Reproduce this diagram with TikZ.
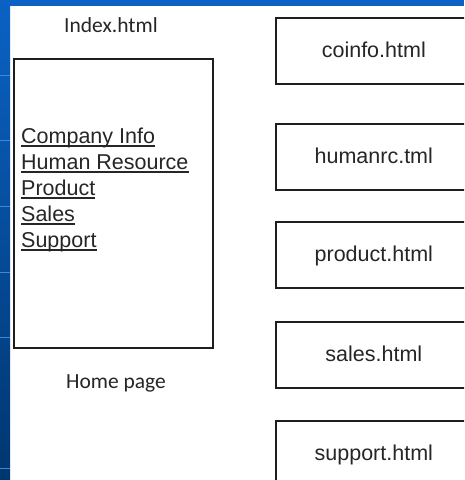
\documentclass[tikz,border=0pt]{standalone}
\usepackage{fontspec}
\setmainfont{Liberation Sans}
\newfontfamily\calibri{Carlito}
\usetikzlibrary{positioning}
\definecolor{band}{HTML}{0B62C4}
\definecolor{banddark}{HTML}{00366F}
\definecolor{bandline}{HTML}{3C88DC}
\definecolor{edge}{HTML}{1E1E1E}
\definecolor{ink}{HTML}{262626}
\tikzset{
  page/.style={draw=edge, line width=1.6pt, anchor=north west},
  filebox/.style={page, minimum width=196pt, minimum height=66pt,
    text height=17pt, text depth=4pt, font=\fontsize{21.5}{26}\selectfont, text=ink},
  link/.style={anchor=base west, inner sep=0pt, font=\fontsize{21.5}{26}\selectfont, text=ink},
  uline/.style={draw=ink, line width=1.1pt},
  caption/.style={anchor=base, inner sep=0pt, font=\calibri\fontsize{21.5}{26}\selectfont, text=ink},
}
\begin{document}
\begin{tikzpicture}[x=1pt,y=-1pt]
  \useasboundingbox (0,0) rectangle (464,480);
  \clip (0,0) rectangle (464,480);
  \fill[white] (0,0) rectangle (464,480);
  \shade[top color=band, bottom color=banddark] (0,0) rectangle (10,480);
  \fill[band] (0,0) rectangle (464,6);
  \foreach \y in {75,140,206,272,337,468}
    \draw[bandline, line width=0.8pt] (0,\y) -- (10,\y);

  \node[page, minimum width=199pt, minimum height=289pt] (home) at (13,58) {};
  \node[caption] (index) at (111,32) {Index.html};
  \node[caption] (homepage) at (116,388) {Home page};
  \foreach \n/\y/\t in {co/143/Company Info, hr/169/Human Resource, pr/195/Product, sa/221/Sales, su/247/Support}{
    \node[link] (\n) at (21,\y) {\t};
    \draw[uline] ([yshift=-3pt]\n.base west) -- ([yshift=-3pt]\n.base east);
  }

  \foreach \n/\y/\t in {coinfo/17/coinfo.html, humanrc/123/humanrc.tml, product/221/product.html, sales/321/sales.html, support/420/support.html}
    \node[filebox] (\n) at (275,\y) {\t};
\end{tikzpicture}
\end{document}
